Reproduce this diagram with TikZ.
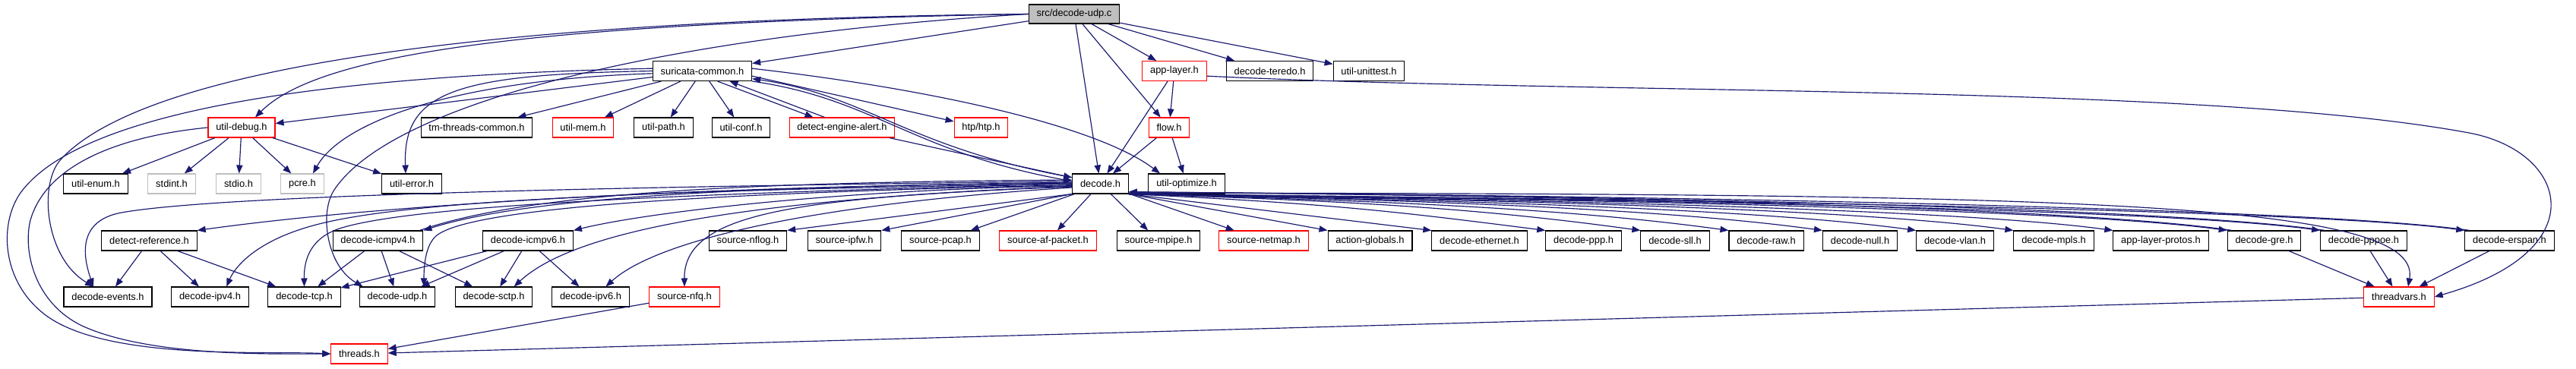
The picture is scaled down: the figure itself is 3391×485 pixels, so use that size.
\documentclass[tikz,border=0pt]{standalone}
\usepackage{fontspec}
\setmainfont{Liberation Sans}
\usepackage{tikz}
\usetikzlibrary{arrows.meta, positioning}
\definecolor{edgeblue}{HTML}{191970}

\begin{document}
\begin{tikzpicture}[x=0.3mm, y=-0.3mm,
  header/.style={rectangle, draw=black, fill=white, line width=0.32mm, minimum height=7.8mm, inner xsep=3.1mm, inner ysep=0pt, font=\fontsize{11}{13}\selectfont},
  missing/.style={header, draw=red},
  system/.style={header, draw=black!25},
  dep/.style={draw=edgeblue, line width=0.35mm, -{Triangle[length=3.3mm, width=2.5mm]}}
]
  \useasboundingbox (0,0) rectangle (3391,485);

  \node[header, fill=black!25, minimum height=7.5mm] (src) at (1414,18.5) {src/decode-udp.c};

  \node[header] (suricata) at (924.5,93.5) {suricata-common.h};
  \node[missing] (applayer) at (1546,93.5) {app-layer.h};
  \node[header] (teredo) at (1671.5,93.5) {decode-teredo.h};
  \node[header] (unittest) at (1802,93.5) {util-unittest.h};

  \node[missing] (utildebug) at (318,168) {util-debug.h};
  \node[header] (tmthreads) at (627.5,168) {tm-threads-common.h};
  \node[missing] (utilmem) at (767.5,168) {util-mem.h};
  \node[header] (utilpath) at (873.5,168) {util-path.h};
  \node[header] (utilconf) at (975.5,168) {util-conf.h};
  \node[missing] (alert) at (1108.5,168) {detect-engine-alert.h};
  \node[missing] (htp) at (1291.5,168) {htp/htp.h};
  \node[missing] (flow) at (1539,168) {flow.h};

  \node[header] (utilenum) at (126,242) {util-enum.h};
  \node[system] (stdint) at (226,242) {stdint.h};
  \node[system] (stdio) at (314,242) {stdio.h};
  \node[system] (pcre) at (398,242) {pcre.h};
  \node[header] (utilerror) at (542,242) {util-error.h};
  \node[header] (decode) at (1448.5,242) {decode.h};
  \node[header] (optimize) at (1562,242) {util-optimize.h};

  \node[header] (detectref) at (196.5,317) {detect-reference.h};
  \node[header] (icmpv4) at (497.5,317) {decode-icmpv4.h};
  \node[header] (icmpv6) at (695,317) {decode-icmpv6.h};
  \node[header] (nflog) at (984.5,317) {source-nflog.h};
  \node[header] (ipfw) at (1111.5,317) {source-ipfw.h};
  \node[header] (pcap) at (1238,317) {source-pcap.h};
  \node[missing] (afpacket) at (1379.5,317) {source-af-packet.h};
  \node[header] (mpipe) at (1525,317) {source-mpipe.h};
  \node[missing] (netmap) at (1663.5,317) {source-netmap.h};
  \node[header] (actionglobals) at (1803.5,317) {action-globals.h};
  \node[header] (ethernet) at (1947.5,317) {decode-ethernet.h};
  \node[header] (ppp) at (2084.5,317) {decode-ppp.h};
  \node[header] (sll) at (2205,317) {decode-sll.h};
  \node[header] (raw) at (2325,317) {decode-raw.h};
  \node[header] (null) at (2448.5,317) {decode-null.h};
  \node[header] (vlan) at (2573.5,317) {decode-vlan.h};
  \node[header] (mpls) at (2703.5,317) {decode-mpls.h};
  \node[header] (protos) at (2844.5,317) {app-layer-protos.h};
  \node[header] (gre) at (2980.5,317) {decode-gre.h};
  \node[header] (pppoe) at (3111.5,317) {decode-pppoe.h};
  \node[header] (erspan) at (3303.5,317) {decode-erspan.h};

  \node[header] (events) at (142,391) {decode-events.h};
  \node[header] (ipv4) at (276.5,391) {decode-ipv4.h};
  \node[header] (tcp) at (400.5,391) {decode-tcp.h};
  \node[header] (udp) at (523,391) {decode-udp.h};
  \node[header] (sctp) at (650,391) {decode-sctp.h};
  \node[header] (ipv6) at (777.5,391) {decode-ipv6.h};
  \node[missing] (nfq) at (901,391) {source-nfq.h};
  \node[missing] (threadvars) at (3158,391) {threadvars.h};

  \node[missing] (threads) at (473,466) {threads.h};

  % root includes
  \draw[dep] (src) -- (suricata);
  \draw[dep] (src.west) .. controls (700,30) and (420,70) .. ([xshift=5.4mm]utildebug.north);
  \draw[dep] (src.west) .. controls (700,25) and (200,80) .. (80,210) .. controls (50,243) and (60,340) .. ([xshift=-5.7mm]events.north);
  \draw[dep] (src.west) .. controls (900,45) and (520,130) .. (440,250) .. controls (420,280) and (430,350) .. ([xshift=1.5mm]udp.north west);
  \draw[dep] (src) -- (decode);
  \draw[dep] (src) -- (flow);
  \draw[dep] (src) -- (applayer);
  \draw[dep] (src) -- (teredo);
  \draw[dep] (src) -- (unittest);

  % suricata-common.h
  \draw[dep] (suricata) -- (utildebug);
  \draw[dep] (suricata) -- (tmthreads);
  \draw[dep] (suricata) -- (utilmem);
  \draw[dep] (suricata) -- (utilpath);
  \draw[dep] (suricata) -- (utilconf);
  \draw[dep] ([xshift=6mm]suricata.south) -- ([xshift=-11.4mm]alert.north);
  \draw[dep] ([xshift=-6.9mm]alert.north) -- ([xshift=10.8mm]suricata.south);
  \draw[dep] ([yshift=-2mm]suricata.east) -- (htp);
  \draw[dep] (suricata.south east) .. controls (1150,130) and (1200,200) .. ([yshift=1mm]decode.west);
  \draw[dep] ([yshift=2.5mm]decode.west) .. controls (1195,195) and (1140,125) .. ([yshift=1mm]suricata.south east);
  \draw[dep] ([yshift=1mm]suricata.east) .. controls (1250,120) and (1450,170) .. ([xshift=-10.5mm]optimize.north);
  \draw[dep] (suricata.west) .. controls (600,98) and (530,120) .. ([xshift=-2.4mm]utilerror.north);
  \draw[dep] ([yshift=-1mm]suricata.west) .. controls (600,105) and (450,160) .. ([xshift=4.2mm]pcre.north);
  \draw[dep] ([yshift=1mm]suricata.west) .. controls (400,100) and (110,150) .. (30,250) .. controls (-2,290) and (0,370) .. (60,415) .. controls (140,475) and (350,462) .. (threads.west);

  % util-debug.h
  \draw[dep] (utildebug) -- (utilenum);
  \draw[dep] (utildebug) -- (stdint);
  \draw[dep] (utildebug) -- (stdio);
  \draw[dep] (utildebug) -- (pcre);
  \draw[dep] (utildebug) -- (utilerror);
  \draw[dep] (utildebug.west) .. controls (150,180) and (60,220) .. (40,290) .. controls (30,330) and (45,400) .. (110,430) .. controls (200,470) and (360,466) .. (threads.west);

  \draw[dep] (alert) -- (decode);
  \draw[dep] (applayer) -- (decode);
  \draw[dep] (applayer) -- (flow);
  \draw[dep] ([yshift=-2mm]applayer.east) .. controls (2100,125) and (2900,110) .. (3250,175) .. controls (3380,199) and (3420,330) .. (threadvars.east);
  \draw[dep] (flow) -- (decode);
  \draw[dep] (flow) -- (optimize);

  % decode.h, to the left
  \draw[dep] ([yshift=0.5mm]decode.west) .. controls (900,246) and (500,270) .. (detectref.north east);
  \draw[dep] ([yshift=1mm]decode.west) .. controls (900,245) and (300,255) .. (160,280) .. controls (100,291) and (110,340) .. ([xshift=-5.7mm]events.north);
  \draw[dep] (decode.west) .. controls (900,250) and (550,262) .. (420,295) .. controls (340,315) and (310,350) .. ([xshift=6.5mm]ipv4.north);
  \draw[dep] (decode.west) .. controls (900,255) and (550,270) .. (450,300) .. controls (410,312) and (400,340) .. (tcp.north);
  \draw[dep] ([yshift=-0.5mm]decode.west) .. controls (900,255) and (620,275) .. (575,310) .. controls (560,322) and (558,350) .. ([xshift=10.5mm]udp.north);
  \draw[dep] ([yshift=-1mm]decode.west) .. controls (1000,262) and (760,300) .. ([xshift=8mm]sctp.north);
  \draw[dep] ([yshift=-1.5mm]decode.west) .. controls (1050,270) and (860,320) .. ([xshift=6mm]ipv6.north);
  \draw[dep] ([yshift=-1.2mm]decode.west) .. controls (1050,260) and (900,280) .. (nfq.north);
  \draw[dep] ([yshift=0.3mm]decode.west) .. controls (1000,245) and (700,258) .. (icmpv4.north east);
  \draw[dep] ([xshift=-1.5mm]icmpv4.north east) .. controls (700,252) and (1000,240) .. ([yshift=1.5mm]decode.west);
  \draw[dep] ([yshift=-0.8mm]decode.west) .. controls (1100,250) and (850,280) .. (icmpv6.north east);
  \draw[dep] (decode.south west) -- (nflog.north east);
  \draw[dep] (decode.south west) -- (ipfw.north east);
  \draw[dep] ([xshift=1mm]decode.south west) -- ([xshift=-3.6mm]pcap.north east);
  \draw[dep] (decode) -- (afpacket);
  \draw[dep] (decode) -- (mpipe);
  \draw[dep] (decode) -- (netmap);

  % decode.h, to the right
  \draw[dep] (decode.south east) -- (actionglobals.north west);
  \draw[dep] (decode.south east) -- (ethernet.north west);
  \draw[dep] (decode.south east) .. controls (1750,268) and (1834,278) .. (ppp.north west);
  \draw[dep] (decode.south east) .. controls (1800,265) and (1959,276) .. (sll.north west);
  \draw[dep] (decode.south east) .. controls (1850,265) and (2075,276) .. (raw.north west);
  \draw[dep] (decode.south east) .. controls (1900,264) and (2199,276) .. (null.north west);
  \draw[dep] (decode.south east) .. controls (1950,264) and (2322,276) .. (vlan.north west);
  \draw[dep] (decode.south east) .. controls (2000,263) and (2450,276) .. (mpls.north west);
  \draw[dep] (decode.south east) .. controls (2050,263) and (2581,276) .. (protos.north west);
  \draw[dep] (decode.south east) .. controls (2100,262) and (2732,276) .. (gre.north west);
  \draw[dep] (decode.south east) .. controls (2150,262) and (2854,276) .. (pppoe.north west);
  \draw[dep] (decode.south east) .. controls (2200,262) and (3044,276) .. (erspan.north west);
  \draw[dep] ([xshift=2mm]gre.north west) .. controls (2740,274) and (2100,258) .. ([yshift=0.8mm]decode.south east);
  \draw[dep] ([xshift=2mm]pppoe.north west) .. controls (2860,274) and (2150,258) .. ([yshift=0.8mm]decode.south east);
  \draw[dep] ([xshift=2mm]erspan.north west) .. controls (3050,274) and (2200,258) .. ([yshift=0.8mm]decode.south east);
  \draw[dep] ([yshift=0.4mm]decode.south east) .. controls (2700,255) and (3190,262) .. ([xshift=3.6mm]threadvars.north);

  % lower rows
  \draw[dep] (detectref) -- (events);
  \draw[dep] (detectref) -- (ipv4);
  \draw[dep] (detectref) -- (tcp);
  \draw[dep] (icmpv4) -- (tcp);
  \draw[dep] (icmpv4) -- (udp);
  \draw[dep] (icmpv4) -- (sctp);
  \draw[dep] (icmpv6) -- (tcp);
  \draw[dep] (icmpv6) -- (udp);
  \draw[dep] (icmpv6) -- (sctp);
  \draw[dep] (icmpv6) -- (ipv6);
  \draw[dep] (gre) -- (threadvars);
  \draw[dep] (pppoe) -- (threadvars);
  \draw[dep] (erspan) -- (threadvars);
  \draw[dep] (nfq) -- (threads);
  \draw[dep] (threadvars) -- (threads);
\end{tikzpicture}
\end{document}
